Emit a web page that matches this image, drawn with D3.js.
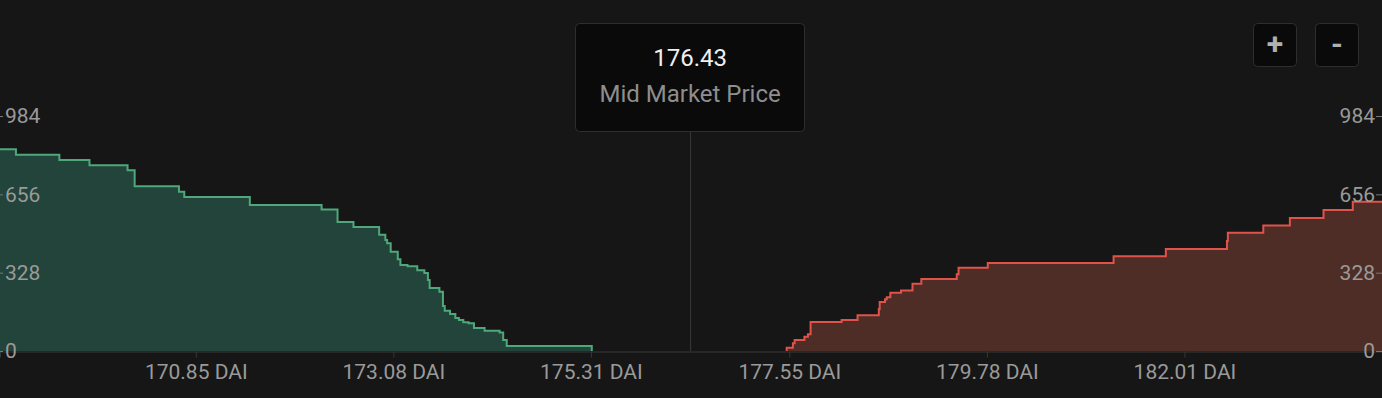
<!DOCTYPE html>
<html>
<head>
<meta charset="utf-8">
<script src="https://cdn.jsdelivr.net/npm/d3@7"></script>
<style>
  html, body { margin: 0; padding: 0; background: #161616; }
  svg { display: block; font-family: Roboto, sans-serif; }
</style>
</head>
<body>
<div id="depthChart"></div>
<script>
const width = 1382;
const height = 398;
const baseY = 351;
const topY = 116;

// Order book depth (price in DAI, cumulative size)
const bidPrices = [168.64, 168.82, 169.31, 169.65, 170.08, 170.16, 170.66, 170.72, 171.46, 172.27,
  172.45, 172.63, 172.92, 172.99, 173.01, 173.05, 173.13, 173.16, 173.24, 173.35,
  173.43, 173.47, 173.49, 173.60, 173.64, 173.66, 173.72, 173.78, 173.82, 173.87,
  173.93, 173.99, 174.11, 174.28, 174.32, 174.36, 174.62, 175.32];
const bidDepth = [845, 822, 800, 778, 757, 690, 667, 645, 611, 593,
  540, 519, 487, 465, 451, 416, 384, 360, 355, 338,
  327, 297, 264, 248, 188, 169, 155, 138, 130, 120,
  116, 96, 85, 77, 46, 21, 21, 0];

const askPrices = [177.52, 177.52, 177.59, 177.61, 177.72, 177.76, 177.79, 178.14, 178.32, 178.56,
  178.57, 178.63, 178.65, 178.69, 178.81, 178.94, 179.04, 179.44, 179.46, 179.79,
  181.21, 181.80, 182.49, 182.50, 182.90, 183.20, 183.58, 183.91, 184.24];
const askDepth = [0, 14, 32, 46, 60, 70, 121, 130, 150, 176,
  205, 217, 225, 244, 253, 282, 302, 321, 349, 369,
  397, 427, 461, 495, 525, 557, 590, 625, 625];

const priceTicks = [170.85, 173.08, 175.31, 177.55, 179.78, 182.01];
const depthTicks = [0, 328, 656, 984];
const midPrice = 176.43;

const bids = bidPrices.map((p, i) => ({ price: p, depth: bidDepth[i] }));
const asks = askPrices.map((p, i) => ({ price: p, depth: askDepth[i] }));

const svg = d3.select("#depthChart")
  .append("svg")
  .attr("width", width)
  .attr("height", height);

svg.append("rect")
  .attr("width", width)
  .attr("height", height)
  .attr("fill", "#161616");

const x = d3.scaleLinear()
  .domain([168.64, 184.24])
  .range([0, width]);

const y = d3.scaleLinear()
  .domain([0, 984])
  .range([baseY, topY]);

const area = d3.area()
  .curve(d3.curveStepAfter)
  .x(d => x(d.price))
  .y0(baseY)
  .y1(d => y(d.depth));

const line = d3.line()
  .curve(d3.curveStepAfter)
  .x(d => x(d.price))
  .y(d => y(d.depth));

// mid market line
svg.append("line")
  .attr("x1", x(midPrice) + 0.5)
  .attr("x2", x(midPrice) + 0.5)
  .attr("y1", 132)
  .attr("y2", baseY)
  .attr("stroke", "#3a3a3a")
  .attr("stroke-width", 1);

// bids
svg.append("path")
  .datum(bids)
  .attr("d", area)
  .attr("fill", "#22443a");
svg.append("path")
  .datum(bids)
  .attr("d", line)
  .attr("fill", "none")
  .attr("stroke", "#4fa87c")
  .attr("stroke-width", 2);

// asks
svg.append("path")
  .datum(asks)
  .attr("d", area)
  .attr("fill", "#4e2d27");
svg.append("path")
  .datum(asks)
  .attr("d", line)
  .attr("fill", "none")
  .attr("stroke", "#e0534b")
  .attr("stroke-width", 2);

// X axis
const xAxis = svg.append("g")
  .attr("transform", `translate(0, ${baseY + 0.5})`)
  .call(d3.axisBottom(x)
    .tickValues(priceTicks)
    .tickSize(6)
    .tickPadding(7)
    .tickFormat(d => d.toFixed(2) + " DAI"));
xAxis.select(".domain").attr("stroke", "#383838");
xAxis.selectAll(".tick line").attr("stroke", "#383838");
xAxis.selectAll("text")
  .attr("fill", "#9a9a9a")
  .attr("font-size", 21)
  .attr("font-family", "Roboto, sans-serif");

// Y axis left
const yLeft = svg.append("g")
  .attr("transform", "translate(0,0)")
  .call(d3.axisRight(y)
    .tickValues(depthTicks)
    .tickSize(3)
    .tickPadding(2));
yLeft.select(".domain").remove();
yLeft.selectAll(".tick line").attr("stroke", "#777");
yLeft.selectAll("text")
  .attr("fill", "#9a9a9a")
  .attr("font-size", 21)
  .attr("font-family", "Roboto, sans-serif");

// Y axis right
const yRight = svg.append("g")
  .attr("transform", `translate(${width},0)`)
  .call(d3.axisLeft(y)
    .tickValues(depthTicks)
    .tickSize(6)
    .tickPadding(1));
yRight.select(".domain").remove();
yRight.selectAll(".tick line").attr("stroke", "#777");
yRight.selectAll("text")
  .attr("fill", "#9a9a9a")
  .attr("font-size", 21)
  .attr("font-family", "Roboto, sans-serif");

// mid market price box
const box = svg.append("g");
box.append("rect")
  .attr("x", 575.5)
  .attr("y", 23.5)
  .attr("width", 229)
  .attr("height", 108)
  .attr("rx", 4)
  .attr("fill", "#0a0a0a")
  .attr("stroke", "#2e2e2e");
box.append("text")
  .attr("x", x(midPrice))
  .attr("y", 66)
  .attr("text-anchor", "middle")
  .attr("fill", "#f0f0f0")
  .attr("font-size", 24)
  .text(midPrice.toFixed(2));
box.append("text")
  .attr("x", x(midPrice))
  .attr("y", 102)
  .attr("text-anchor", "middle")
  .attr("fill", "#8e8e8e")
  .attr("font-size", 24)
  .text("Mid Market Price");

// zoom buttons
const buttons = [{ label: "+", x: 1253.5 }, { label: "-", x: 1315.5 }];
const btn = svg.selectAll(".zoom-btn")
  .data(buttons)
  .enter()
  .append("g")
  .attr("class", "zoom-btn");
btn.append("rect")
  .attr("x", d => d.x)
  .attr("y", 23.5)
  .attr("width", 43)
  .attr("height", 43)
  .attr("rx", 4)
  .attr("fill", "#0a0a0a")
  .attr("stroke", "#2e2e2e");
btn.append("text")
  .attr("x", d => d.x + 21.5)
  .attr("y", 54)
  .attr("text-anchor", "middle")
  .attr("fill", "#b0b0b0")
  .attr("font-size", 30)
  .attr("font-weight", "bold")
  .text(d => d.label);
</script>
</body>
</html>
